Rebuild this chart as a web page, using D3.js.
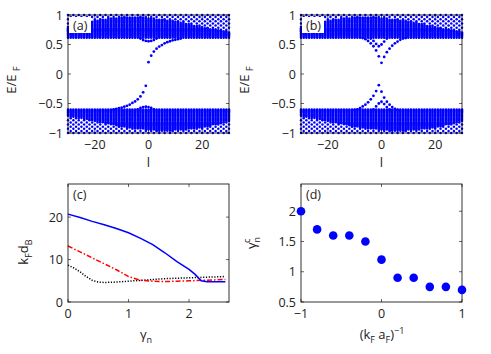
<!DOCTYPE html>
<html>
<head>
<meta charset="utf-8">
<script src="https://cdn.jsdelivr.net/npm/d3@7"></script>
<style>
  body { margin: 0; background: #fff; }
  svg { display: block; font-family: "Open Sans", "DejaVu Sans", sans-serif; }
</style>
</head>
<body>
<svg id="fig" width="491" height="354"></svg>
<script>
// ---- data ----
// angular momentum values of the spectrum (a),(b)
const lValues = d3.range(-30, 31);
// band envelopes sampled at these l
const envL = [-30, -25, -20, -15, -10, -5, 0, 5, 10, 15, 20, 25, 30];
const upperSolidTop = [0.80, 0.86, 0.91, 0.94, 0.96, 0.97, 0.95, 0.93, 0.90, 0.85, 0.80, 0.76, 0.72];
const lowerSolidBottom = [-0.72, -0.76, -0.80, -0.85, -0.90, -0.93, -0.95, -0.97, -0.96, -0.94, -0.91, -0.86, -0.80];
const upperGapEdge = 0.615;
const lowerGapEdge = -0.60;

// in-gap states, panel (a)
const aUpperL = [0, 1, 2, 3, 4, 5, 6, 7, 8, 9, 10, 11, 12];
const aUpperE = [0.20, 0.31, 0.38, 0.43, 0.465, 0.49, 0.52, 0.54, 0.555, 0.57, 0.58, 0.59, 0.60];
const aLowerL = [-1, -2, -3, -4, -5, -6, -7, -8, -9, -10, -11, -12, -13];
const aLowerE = [-0.20, -0.31, -0.38, -0.43, -0.465, -0.49, -0.52, -0.54, -0.555, -0.57, -0.58, -0.59, -0.60];
const aBumpUpL = [-3, -2, -1, 0, 1, 2, 3];
const aBumpUpE = [0.60, 0.575, 0.56, 0.555, 0.56, 0.575, 0.60];
const aBumpLoL = [-4, -3, -2, -1, 0, 1, 2];
const aBumpLoE = [-0.60, -0.575, -0.56, -0.555, -0.56, -0.575, -0.60];

// in-gap states, panel (b)
const bUpperL = [-7, -6, -5, -4, -3, -2, -1, 0, 1, 2, 3, 4, 5, 6, 7, 8, 9];
const bUpperE = [0.61, 0.59, 0.56, 0.52, 0.47, 0.40, 0.30, 0.19, 0.29, 0.37, 0.43, 0.48, 0.52, 0.55, 0.58, 0.60, 0.61];
const bInnerL = [-4, -3, -2, -1, 0, 1, 2];
const bInnerE = [0.60, 0.56, 0.51, 0.47, 0.50, 0.55, 0.60];
const bLowerL = [-10, -9, -8, -7, -6, -5, -4, -3, -2, -1, 0, 1, 2, 3, 4, 5, 6];
const bLowerE = [-0.61, -0.60, -0.58, -0.55, -0.52, -0.48, -0.43, -0.37, -0.29, -0.19, -0.30, -0.40, -0.47, -0.52, -0.56, -0.59, -0.61];
const bInnerLoL = [-3, -2, -1, 0, 1, 2, 3];
const bInnerLoE = [-0.60, -0.55, -0.50, -0.47, -0.51, -0.56, -0.60];

// panel (c): k_F d_B versus gamma_n
const gammaBlue = [0, 0.2, 0.4, 0.6, 0.8, 1.0, 1.2, 1.4, 1.6, 1.8, 2.0, 2.1, 2.2, 2.3, 2.4, 2.5, 2.6];
const blueVals  = [20.7, 19.9, 19.0, 18.2, 17.3, 16.3, 15.0, 13.5, 11.6, 9.5, 7.7, 6.5, 5.0, 4.8, 4.8, 4.8, 4.8];
const gammaRed  = [0, 0.2, 0.4, 0.6, 0.8, 1.0, 1.2, 1.4, 1.6, 1.8, 2.0, 2.2, 2.4, 2.6];
const redVals   = [13.2, 11.8, 10.4, 9.0, 7.6, 6.0, 5.1, 4.9, 4.8, 4.9, 5.0, 5.1, 5.2, 5.3];
const gammaBlack = [0, 0.1, 0.2, 0.3, 0.4, 0.5, 0.6, 0.8, 1.0, 1.2, 1.4, 1.6, 1.8, 2.0, 2.2, 2.4, 2.6];
const blackVals  = [8.7, 8.0, 7.1, 6.0, 5.1, 4.7, 4.6, 4.7, 4.9, 5.1, 5.3, 5.5, 5.6, 5.7, 5.8, 5.9, 6.0];

// panel (d): critical gamma versus (k_F a_F)^-1
const invKa = [-1, -0.8, -0.6, -0.4, -0.2, 0, 0.2, 0.4, 0.6, 0.8, 1];
const gammaC = [2.0, 1.7, 1.6, 1.6, 1.5, 1.2, 0.9, 0.9, 0.75, 0.75, 0.7];

// ticks
const lTicks = [-20, 0, 20];
const eTicks = [-1, -0.5, 0, 0.5, 1];
const cXTicks = [0, 1, 2];
const cYTicks = [0, 10, 20];
const dXTicks = [-1, 0, 1];
const dYTicks = [0.5, 1, 1.5, 2];

// ---- drawing ----
const svg = d3.select("#fig");
const blue = "#0000ff";
const fmt = v => (v < 0 ? "\u2212" : "") + Math.abs(v);

function frame(g, x, y, xt, yt) {
  const [xa, xb] = x.range(), [yb, ya] = y.range();
  const tk = 3;
  g.selectAll(".xt").data(xt).join("path")
    .attr("d", d => `M${x(d)},${yb}v${-tk}M${x(d)},${ya}v${tk}`)
    .attr("stroke", "#000").attr("stroke-width", 0.6);
  g.selectAll(".yt").data(yt).join("path")
    .attr("d", d => `M${xa},${y(d)}h${tk}M${xb},${y(d)}h${-tk}`)
    .attr("stroke", "#000").attr("stroke-width", 0.6);
  g.append("rect").attr("x", xa).attr("y", ya).attr("width", xb - xa).attr("height", yb - ya)
    .attr("fill", "none").attr("stroke", "#000").attr("stroke-width", 0.8);
  g.append("g").selectAll("text").data(xt).join("text")
    .attr("x", x).attr("y", yb + 16).attr("text-anchor", "middle")
    .attr("font-size", 12.5).attr("fill", "#222").text(fmt);
  g.append("g").selectAll("text").data(yt).join("text")
    .attr("x", xa - 5).attr("y", d => y(d) + 4.5).attr("text-anchor", "end")
    .attr("font-size", 12.5).attr("fill", "#222").text(fmt);
}

function panelLabel(g, x0, y0, txt, box) {
  if (box) g.append("rect").attr("x", x0 + 1).attr("y", y0 + 2).attr("width", 22).attr("height", 16).attr("fill", "#fff");
  g.append("text").attr("x", x0 + 5).attr("y", y0 + 15).attr("font-size", 12.5).attr("fill", "#222").text(txt);
}

function spectrum(x0, x1, label, states) {
  const g = svg.append("g");
  const x = d3.scaleLinear().domain([-30, 30]).range([x0, x1]);
  const y = d3.scaleLinear().domain([-1, 1]).range([133, 15]);
  const topAt = d3.scaleLinear().domain(envL).range(upperSolidTop);
  const botAt = d3.scaleLinear().domain(envL).range(lowerSolidBottom);
  const dots = [];
  lValues.forEach(l => {
    const t = topAt(l), b = botAt(l);
    for (let e = upperGapEdge; e <= t; e += 0.018) dots.push([l, e]);
    for (let e = lowerGapEdge; e >= b; e -= 0.018) dots.push([l, e]);
    const off = Math.abs(l) % 2 ? 0.036 : 0;
    for (let e = 1 - off; e > t; e -= 0.072) dots.push([l, e]);
    for (let e = -1 + off; e < b; e += 0.072) dots.push([l, e]);
  });
  states.forEach(([ls, es]) => ls.forEach((l, i) => dots.push([l, es[i], 1])));
  g.append("g").selectAll("circle").data(dots).join("circle")
    .attr("cx", d => x(d[0])).attr("cy", d => y(d[1]))
    .attr("r", d => d[2] ? 1.4 : 1.25).attr("fill", blue);
  frame(g, x, y, lTicks, eTicks);
  panelLabel(g, x0, 15, label, true);
  g.append("text").attr("x", (x0 + x1) / 2).attr("y", 167).attr("text-anchor", "middle")
    .attr("font-size", 13).attr("fill", "#222").text("l");
  const yl = g.append("text").attr("transform", `translate(${x0 - 52},80) rotate(-90)`)
    .attr("text-anchor", "middle").attr("font-size", 13).attr("fill", "#222");
  yl.append("tspan").text("E/E ");
  yl.append("tspan").attr("font-size", 9).attr("dy", 4).text("F");
}

spectrum(68, 229, "(a)", [[aUpperL, aUpperE], [aLowerL, aLowerE], [aBumpUpL, aBumpUpE], [aBumpLoL, aBumpLoE]]);
spectrum(301, 462, "(b)", [[bUpperL, bUpperE], [bInnerL, bInnerE], [bLowerL, bLowerE], [bInnerLoL, bInnerLoE]]);

// panel (c)
{
  const g = svg.append("g");
  const x = d3.scaleLinear().domain([0, 2.66]).range([68, 229]);
  const y = d3.scaleLinear().domain([0, 27.8]).range([302, 184]);
  const line = d3.line().x(d => x(d[0])).y(d => y(d[1]));
  const series = [
    [gammaBlack, blackVals, "#000", "1.2,1.6", 1.5],
    [gammaRed, redVals, "#ff0000", "5,2,1.5,2", 1.5],
    [gammaBlue, blueVals, blue, null, 1.5]
  ];
  series.forEach(([xs, ys, c, dash, w]) => {
    g.append("path").datum(xs.map((v, i) => [v, ys[i]])).attr("d", line)
      .attr("fill", "none").attr("stroke", c).attr("stroke-width", w)
      .attr("stroke-dasharray", dash);
  });
  frame(g, x, y, cXTicks, cYTicks);
  panelLabel(g, 68, 184, "(c)", false);
  const xl = g.append("text").attr("x", 146).attr("y", 339).attr("text-anchor", "middle")
    .attr("font-size", 13).attr("fill", "#222");
  xl.append("tspan").text("\u03b3");
  xl.append("tspan").attr("font-size", 9).attr("dy", 4).text("n");
  const yl = g.append("text").attr("transform", "translate(28,252) rotate(-90)")
    .attr("text-anchor", "middle").attr("font-size", 13).attr("fill", "#222");
  yl.append("tspan").text("k");
  yl.append("tspan").attr("font-size", 9).attr("dy", 4).text("F");
  yl.append("tspan").attr("dy", -4).text("d");
  yl.append("tspan").attr("font-size", 9).attr("dy", 4).text("B");
}

// panel (d)
{
  const g = svg.append("g");
  const x = d3.scaleLinear().domain([-1, 1]).range([301, 462]);
  const y = d3.scaleLinear().domain([0.5, 2.45]).range([302, 184]);
  frame(g, x, y, dXTicks, dYTicks);
  g.append("g").selectAll("circle").data(invKa).join("circle")
    .attr("cx", d => x(d)).attr("cy", (d, i) => y(gammaC[i])).attr("r", 4.3).attr("fill", blue);
  panelLabel(g, 301, 184, "(d)", false);
  const xl = g.append("text").attr("x", 382).attr("y", 339).attr("text-anchor", "middle")
    .attr("font-size", 13).attr("fill", "#222");
  xl.append("tspan").text("(k");
  xl.append("tspan").attr("font-size", 9).attr("dy", 4).text("F");
  xl.append("tspan").attr("dy", -4).text(" a");
  xl.append("tspan").attr("font-size", 9).attr("dy", 4).text("F");
  xl.append("tspan").attr("dy", -4).text(")");
  xl.append("tspan").attr("font-size", 9).attr("dy", -5).text("\u22121");
  const yl = g.append("text").attr("transform", "translate(256,243) rotate(-90)")
    .attr("text-anchor", "middle").attr("font-size", 13).attr("fill", "#222");
  yl.append("tspan").text("\u03b3");
  yl.append("tspan").attr("font-size", 9).attr("dy", 4).text("n");
  yl.append("tspan").attr("font-size", 9).attr("dx", -6).attr("dy", -10).text("c");
}
</script>
</body>
</html>
